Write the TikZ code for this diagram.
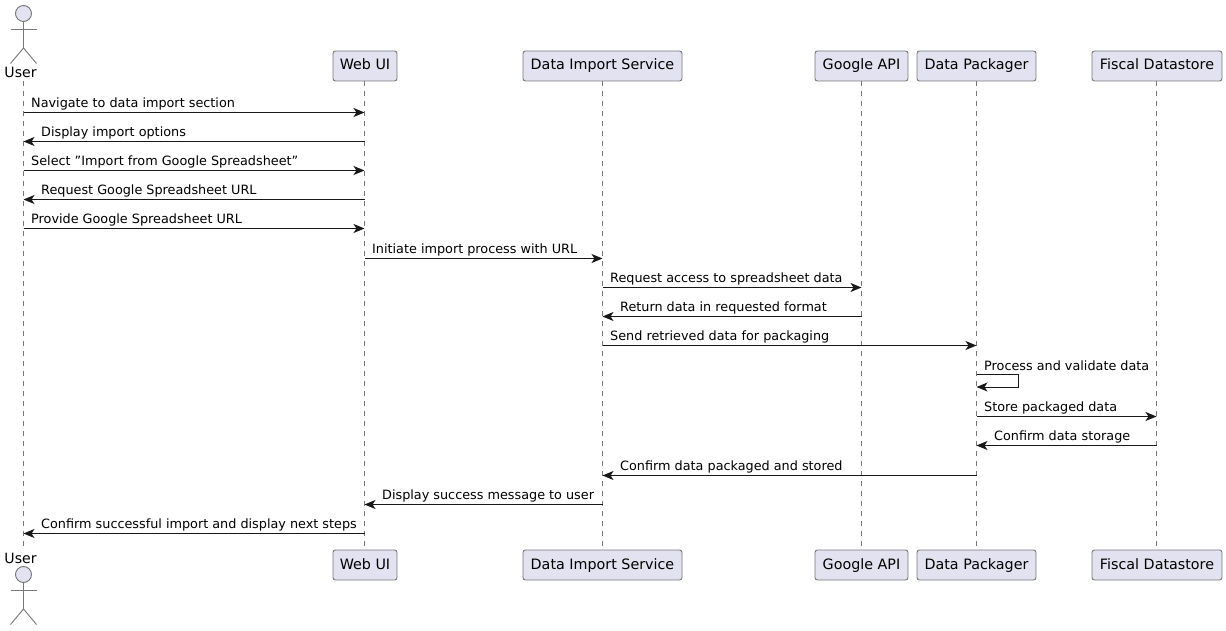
\documentclass[tikz,border=0pt]{standalone}
\usepackage{fontspec}
\setmainfont{DejaVu Sans}
\usetikzlibrary{arrows.meta,calc}
\definecolor{pfill}{HTML}{E2E2F0}
\definecolor{pline}{HTML}{181818}
\definecolor{pthin}{HTML}{777777}
\tikzset{
  part/.style={draw=pthin,fill=pfill,line width=0.9pt,rounded corners=2.5pt,minimum height=30pt,inner sep=0pt,text height=11pt,text depth=3pt,font=\fontsize{14.3}{16}\selectfont,text=black},
  life/.style={draw=pthin,line width=0.8pt,dash pattern=on 5pt off 5pt},
  msg/.style={draw=pline,line width=1pt,-{Stealth[length=11pt,width=9pt,inset=3pt]}},
  lab/.style={anchor=base west,inner sep=0pt,font=\fontsize{12.8}{15}\selectfont,text=black},
  actorlab/.style={inner sep=0pt,anchor=base,font=\fontsize{14.1}{16}\selectfont,text=black},
  stick/.style={draw=pthin,line width=0.9pt},
  head/.style={stick,fill=pfill,circle,minimum size=16pt,inner sep=0pt}
}
\newcommand{\msgline}[5]{%
  \draw[msg] (#1 |- 0,#3) -- (#2 |- 0,#3);
  \node[lab] at (#4,#3-5) {#5};
}
\begin{document}
\begin{tikzpicture}[x=1pt,y=-1pt]
\useasboundingbox (0,0) rectangle (1226,631);
% lifeline anchors
\coordinate (lu) at (23.5,0);
\coordinate (lw) at (364.5,0);
\coordinate (ld) at (602.5,0);
\coordinate (lg) at (861.5,0);
\coordinate (lp) at (976.5,0);
\coordinate (lf) at (1156.5,0);
% actor labels
\node[actorlab] (userT) at (20.5,77.5) {User};
\node[actorlab] (userB) at (20.5,563) {User};
% lifelines drawn first
\draw[life] (lu |- 0,81) -- (lu |- 0,550);
\draw[life] (lw |- 0,81) -- (lw |- 0,550);
\draw[life] (ld |- 0,81) -- (ld |- 0,550);
\draw[life] (lg |- 0,81) -- (lg |- 0,550);
\draw[life] (lp |- 0,81) -- (lp |- 0,550);
\draw[life] (lf |- 0,81) -- (lf |- 0,550);
% participants
\foreach \yy/\sfx in {66/T,565/B}{
  \node[part,minimum width=64pt]  (web\sfx)  at (365,\yy)    {Web UI};
  \node[part,minimum width=159pt] (imp\sfx)  at (602.5,\yy)  {Data Import Service};
  \node[part,minimum width=93pt]  (goo\sfx)  at (861.5,\yy)  {Google API};
  \node[part,minimum width=119pt] (pak\sfx)  at (976.5,\yy)  {Data Packager};
  \node[part,minimum width=130pt] (fis\sfx)  at (1157,\yy)   {Fiscal Datastore};
}
% actor figures
\foreach \oy/\sfx in {0/T,561/B}{
  \node[head] (h\sfx) at (23.5,13.5+\oy) {};
  \coordinate (hip\sfx) at (23.5,48+\oy);
  \coordinate (armL\sfx) at (10.5,29+\oy);
  \coordinate (armR\sfx) at (36.5,29+\oy);
  \coordinate (legL\sfx) at (10.5,63.5+\oy);
  \coordinate (legR\sfx) at (36.5,63.5+\oy);
  \draw[stick] (h\sfx.south) -- (hip\sfx);
  \draw[stick] (armL\sfx) -- (armR\sfx);
  \draw[stick] (legL\sfx) -- (hip\sfx) -- (legR\sfx);
}
% messages
\msgline{lu}{lw}{112.5}{31}{Navigate to data import section}
\msgline{lw}{lu}{141.5}{41}{Display import options}
\msgline{lu}{lw}{170.5}{31}{Select \symbol{34}Import from Google Spreadsheet\symbol{34}}
\msgline{lw}{lu}{199.5}{41}{Request Google Spreadsheet URL}
\msgline{lu}{lw}{228.5}{31}{Provide Google Spreadsheet URL}
\msgline{lw}{ld}{258.5}{372}{Initiate import process with URL}
\msgline{ld}{lg}{287.5}{610}{Request access to spreadsheet data}
\msgline{lg}{ld}{316.5}{620}{Return data in requested format}
\msgline{ld}{lp}{345.5}{610}{Send retrieved data for packaging}
\draw[msg] (lp |- 0,374.5) -- (1018.5,374.5) -- (1018.5,387) -- (lp |- 0,387);
\node[lab] at (984,370) {Process and validate data};
\msgline{lp}{lf}{416.5}{984}{Store packaged data}
\msgline{lf}{lp}{445.5}{994}{Confirm data storage}
\msgline{lp}{ld}{475.5}{620}{Confirm data packaged and stored}
\msgline{ld}{lw}{504.5}{382}{Display success message to user}
\msgline{lw}{lu}{533.5}{41}{Confirm successful import and display next steps}
\end{tikzpicture}
\end{document}
